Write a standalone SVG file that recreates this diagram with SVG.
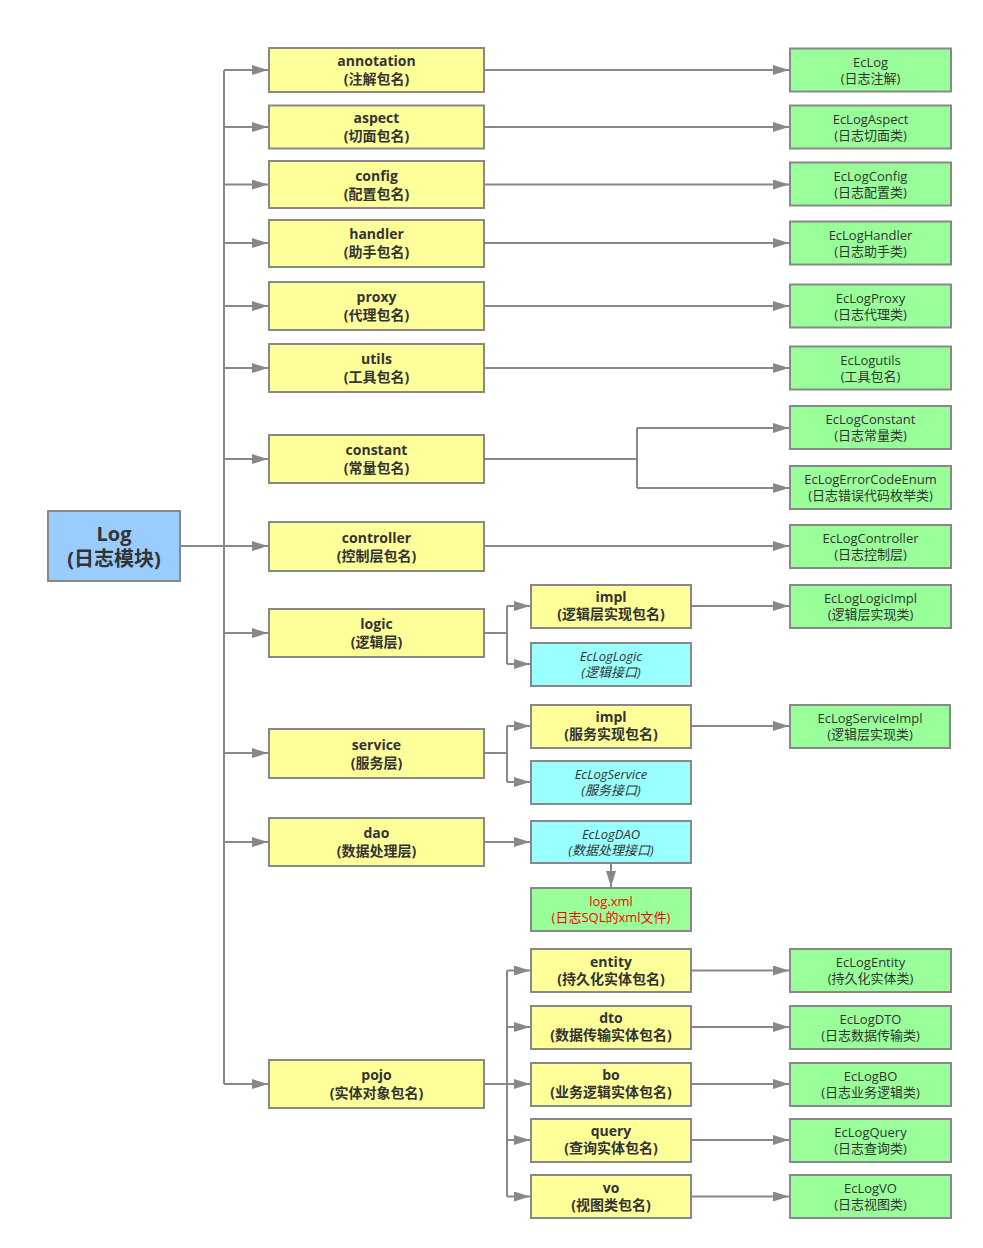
<svg xmlns="http://www.w3.org/2000/svg" width="983" height="1248" viewBox="0 0 983 1248">
<style>
text{font-family:"Open Sans","Noto Sans CJK SC",sans-serif;text-anchor:middle;fill:#333}
.b{stroke:#888;stroke-width:2}
.y{fill:#ffff99}
.g{fill:#99ff99}
.c{fill:#99ffff}
.l{fill:#99ccff}
.ty{font-size:14px;font-weight:bold}
.tg{font-size:13px}
.ti{font-size:13px;font-style:italic}
.tl{font-size:20px;font-weight:bold}
.red{fill:#ff0000}
#edges path{fill:none;stroke:#888;stroke-width:2}
</style>
<defs>
<marker id="a" markerUnits="userSpaceOnUse" markerWidth="16" markerHeight="10" refX="16" refY="5" orient="auto">
<path d="M0,0 L16,5 L0,10 z" fill="#888"/>
</marker>
</defs>
<rect width="983" height="1248" fill="#fff"/>
<g id="edges">
<path d="M180,546 H224"/>
<path d="M224,70 V1084"/>
<path d="M224,70 H268" marker-end="url(#a)"/>
<path d="M224,127 H268" marker-end="url(#a)"/>
<path d="M224,184.5 H268" marker-end="url(#a)"/>
<path d="M224,243 H268" marker-end="url(#a)"/>
<path d="M224,306 H268" marker-end="url(#a)"/>
<path d="M224,368 H268" marker-end="url(#a)"/>
<path d="M224,459 H268" marker-end="url(#a)"/>
<path d="M224,546 H268" marker-end="url(#a)"/>
<path d="M224,633 H268" marker-end="url(#a)"/>
<path d="M224,753 H268" marker-end="url(#a)"/>
<path d="M224,842 H268" marker-end="url(#a)"/>
<path d="M224,1084 H268" marker-end="url(#a)"/>
<path d="M484,70 H789" marker-end="url(#a)"/>
<path d="M484,127 H789" marker-end="url(#a)"/>
<path d="M484,184.5 H789" marker-end="url(#a)"/>
<path d="M484,243 H789" marker-end="url(#a)"/>
<path d="M484,306 H789" marker-end="url(#a)"/>
<path d="M484,368 H789" marker-end="url(#a)"/>
<path d="M484,459 H637"/>
<path d="M637,428 V488"/>
<path d="M637,428 H789" marker-end="url(#a)"/>
<path d="M637,488 H789" marker-end="url(#a)"/>
<path d="M484,546 H789" marker-end="url(#a)"/>
<path d="M484,633 H507"/>
<path d="M507,606 V664"/>
<path d="M507,606 H530" marker-end="url(#a)"/>
<path d="M507,664 H530" marker-end="url(#a)"/>
<path d="M691,606 H789" marker-end="url(#a)"/>
<path d="M484,753 H507"/>
<path d="M507,726 V782"/>
<path d="M507,726 H530" marker-end="url(#a)"/>
<path d="M507,782 H530" marker-end="url(#a)"/>
<path d="M691,726 H789" marker-end="url(#a)"/>
<path d="M484,842 H530" marker-end="url(#a)"/>
<path d="M611,864 V887" marker-end="url(#a)"/>
<path d="M484,1084 H507"/>
<path d="M507,970.5 V1196.5"/>
<path d="M507,970.5 H530" marker-end="url(#a)"/>
<path d="M507,1027 H530" marker-end="url(#a)"/>
<path d="M507,1084 H530" marker-end="url(#a)"/>
<path d="M507,1140 H530" marker-end="url(#a)"/>
<path d="M507,1196.5 H530" marker-end="url(#a)"/>
<path d="M691,970.5 H789" marker-end="url(#a)"/>
<path d="M691,1027 H789" marker-end="url(#a)"/>
<path d="M691,1084 H789" marker-end="url(#a)"/>
<path d="M691,1140 H789" marker-end="url(#a)"/>
<path d="M691,1196.5 H789" marker-end="url(#a)"/>
</g>
<g id="log"><rect class="b l" x="48" y="511" width="132" height="70"/><text class="tl" x="114" y="541">Log</text><text class="tl" x="114" y="566">(日志模块)</text></g>

<g id="annotation"><rect class="b y" x="269" y="48" width="215" height="44"/><text class="ty" x="376.5" y="66">annotation</text><text class="ty" x="376.5" y="84">(注解包名)</text></g>
<g id="aspect"><rect class="b y" x="269" y="105.5" width="215" height="43"/><text class="ty" x="376.5" y="123">aspect</text><text class="ty" x="376.5" y="141">(切面包名)</text></g>
<g id="config"><rect class="b y" x="269" y="161" width="215" height="47"/><text class="ty" x="376.5" y="180.5">config</text><text class="ty" x="376.5" y="198.5">(配置包名)</text></g>
<g id="handler"><rect class="b y" x="269" y="220" width="215" height="47"/><text class="ty" x="376.5" y="239">handler</text><text class="ty" x="376.5" y="257">(助手包名)</text></g>
<g id="proxy"><rect class="b y" x="269" y="282" width="215" height="48"/><text class="ty" x="376.5" y="302">proxy</text><text class="ty" x="376.5" y="320">(代理包名)</text></g>
<g id="utils"><rect class="b y" x="269" y="344" width="215" height="48"/><text class="ty" x="376.5" y="364">utils</text><text class="ty" x="376.5" y="382">(工具包名)</text></g>
<g id="constant"><rect class="b y" x="269" y="435" width="215" height="48"/><text class="ty" x="376.5" y="455">constant</text><text class="ty" x="376.5" y="473">(常量包名)</text></g>
<g id="controller"><rect class="b y" x="269" y="522" width="215" height="49"/><text class="ty" x="376.5" y="542.5">controller</text><text class="ty" x="376.5" y="560.5">(控制层包名)</text></g>
<g id="logic"><rect class="b y" x="269" y="609" width="215" height="48"/><text class="ty" x="376.5" y="629">logic</text><text class="ty" x="376.5" y="647">(逻辑层)</text></g>
<g id="service"><rect class="b y" x="269" y="729" width="215" height="49"/><text class="ty" x="376.5" y="749.5">service</text><text class="ty" x="376.5" y="767.5">(服务层)</text></g>
<g id="dao"><rect class="b y" x="269" y="818" width="215" height="48"/><text class="ty" x="376.5" y="838">dao</text><text class="ty" x="376.5" y="856">(数据处理层)</text></g>
<g id="pojo"><rect class="b y" x="269" y="1060" width="215" height="48"/><text class="ty" x="376.5" y="1080">pojo</text><text class="ty" x="376.5" y="1098">(实体对象包名)</text></g>

<g id="logic-impl"><rect class="b y" x="531" y="585" width="160" height="43"/><text class="ty" x="611" y="602">impl</text><text class="ty" x="611" y="619">(逻辑层实现包名)</text></g>
<g id="EcLogLogic"><rect class="b c" x="531" y="643" width="160" height="43"/><text class="ti" x="611" y="660.5">EcLogLogic</text><text class="ti" x="611" y="676.5">(逻辑接口)</text></g>
<g id="service-impl"><rect class="b y" x="531" y="705" width="160" height="43"/><text class="ty" x="611" y="722">impl</text><text class="ty" x="611" y="739">(服务实现包名)</text></g>
<g id="EcLogService"><rect class="b c" x="531" y="761" width="160" height="43"/><text class="ti" x="611" y="778.5">EcLogService</text><text class="ti" x="611" y="794.5">(服务接口)</text></g>
<g id="EcLogDAO"><rect class="b c" x="531" y="821" width="160" height="42"/><text class="ti" x="611" y="838.5">EcLogDAO</text><text class="ti" x="611" y="854.5">(数据处理接口)</text></g>
<g id="logxml"><rect class="b g" x="531" y="888" width="160" height="43"/><text class="tg red" x="611" y="905.5">log.xml</text><text class="tg red" x="611" y="921.5">(日志SQL的xml文件)</text></g>
<g id="entity"><rect class="b y" x="531" y="949" width="160" height="43"/><text class="ty" x="611" y="966.5">entity</text><text class="ty" x="611" y="983.5">(持久化实体包名)</text></g>
<g id="dto"><rect class="b y" x="531" y="1006" width="160" height="43"/><text class="ty" x="611" y="1023">dto</text><text class="ty" x="611" y="1040">(数据传输实体包名)</text></g>
<g id="bo"><rect class="b y" x="531" y="1063" width="160" height="43"/><text class="ty" x="611" y="1080">bo</text><text class="ty" x="611" y="1097">(业务逻辑实体包名)</text></g>
<g id="query"><rect class="b y" x="531" y="1119" width="160" height="43"/><text class="ty" x="611" y="1136">query</text><text class="ty" x="611" y="1153">(查询实体包名)</text></g>
<g id="vo"><rect class="b y" x="531" y="1175" width="160" height="43"/><text class="ty" x="611" y="1192.5">vo</text><text class="ty" x="611" y="1209.5">(视图类包名)</text></g>

<g id="EcLog"><rect class="b g" x="790" y="48.5" width="161" height="43"/><text class="tg" x="870.5" y="66.5">EcLog</text><text class="tg" x="870.5" y="82.5">(日志注解)</text></g>
<g id="EcLogAspect"><rect class="b g" x="790" y="105.5" width="161" height="43"/><text class="tg" x="870.5" y="123.5">EcLogAspect</text><text class="tg" x="870.5" y="139.5">(日志切面类)</text></g>
<g id="EcLogConfig"><rect class="b g" x="790" y="162.5" width="161" height="43"/><text class="tg" x="870.5" y="180.5">EcLogConfig</text><text class="tg" x="870.5" y="196.5">(日志配置类)</text></g>
<g id="EcLogHandler"><rect class="b g" x="790" y="221.5" width="161" height="43"/><text class="tg" x="870.5" y="239.5">EcLogHandler</text><text class="tg" x="870.5" y="255.5">(日志助手类)</text></g>
<g id="EcLogProxy"><rect class="b g" x="790" y="284.5" width="161" height="43"/><text class="tg" x="870.5" y="302.5">EcLogProxy</text><text class="tg" x="870.5" y="318.5">(日志代理类)</text></g>
<g id="EcLogutils"><rect class="b g" x="790" y="346.5" width="161" height="43"/><text class="tg" x="870.5" y="364.5">EcLogutils</text><text class="tg" x="870.5" y="380.5">(工具包名)</text></g>
<g id="EcLogConstant"><rect class="b g" x="790" y="406" width="161" height="43"/><text class="tg" x="870.5" y="424">EcLogConstant</text><text class="tg" x="870.5" y="440">(日志常量类)</text></g>
<g id="EcLogErrorCodeEnum"><rect class="b g" x="790" y="466" width="161" height="43"/><text class="tg" x="870.5" y="484">EcLogErrorCodeEnum</text><text class="tg" x="870.5" y="500">(日志错误代码枚举类)</text></g>
<g id="EcLogController"><rect class="b g" x="790" y="525" width="161" height="43"/><text class="tg" x="870.5" y="543">EcLogController</text><text class="tg" x="870.5" y="559">(日志控制层)</text></g>
<g id="EcLogLogicImpl"><rect class="b g" x="790" y="585" width="161" height="43"/><text class="tg" x="870.5" y="603">EcLogLogicImpl</text><text class="tg" x="870.5" y="619">(逻辑层实现类)</text></g>
<g id="EcLogServiceImpl"><rect class="b g" x="790" y="705" width="160" height="43"/><text class="tg" x="870" y="723">EcLogServiceImpl</text><text class="tg" x="870" y="739">(逻辑层实现类)</text></g>
<g id="EcLogEntity"><rect class="b g" x="790" y="949" width="161" height="43"/><text class="tg" x="870.5" y="967">EcLogEntity</text><text class="tg" x="870.5" y="983">(持久化实体类)</text></g>
<g id="EcLogDTO"><rect class="b g" x="790" y="1006" width="161" height="43"/><text class="tg" x="870.5" y="1024">EcLogDTO</text><text class="tg" x="870.5" y="1040">(日志数据传输类)</text></g>
<g id="EcLogBO"><rect class="b g" x="790" y="1063" width="161" height="43"/><text class="tg" x="870.5" y="1081">EcLogBO</text><text class="tg" x="870.5" y="1097">(日志业务逻辑类)</text></g>
<g id="EcLogQuery"><rect class="b g" x="790" y="1119" width="161" height="43"/><text class="tg" x="870.5" y="1137">EcLogQuery</text><text class="tg" x="870.5" y="1153">(日志查询类)</text></g>
<g id="EcLogVO"><rect class="b g" x="790" y="1175" width="161" height="43"/><text class="tg" x="870.5" y="1193">EcLogVO</text><text class="tg" x="870.5" y="1209">(日志视图类)</text></g>
</svg>
